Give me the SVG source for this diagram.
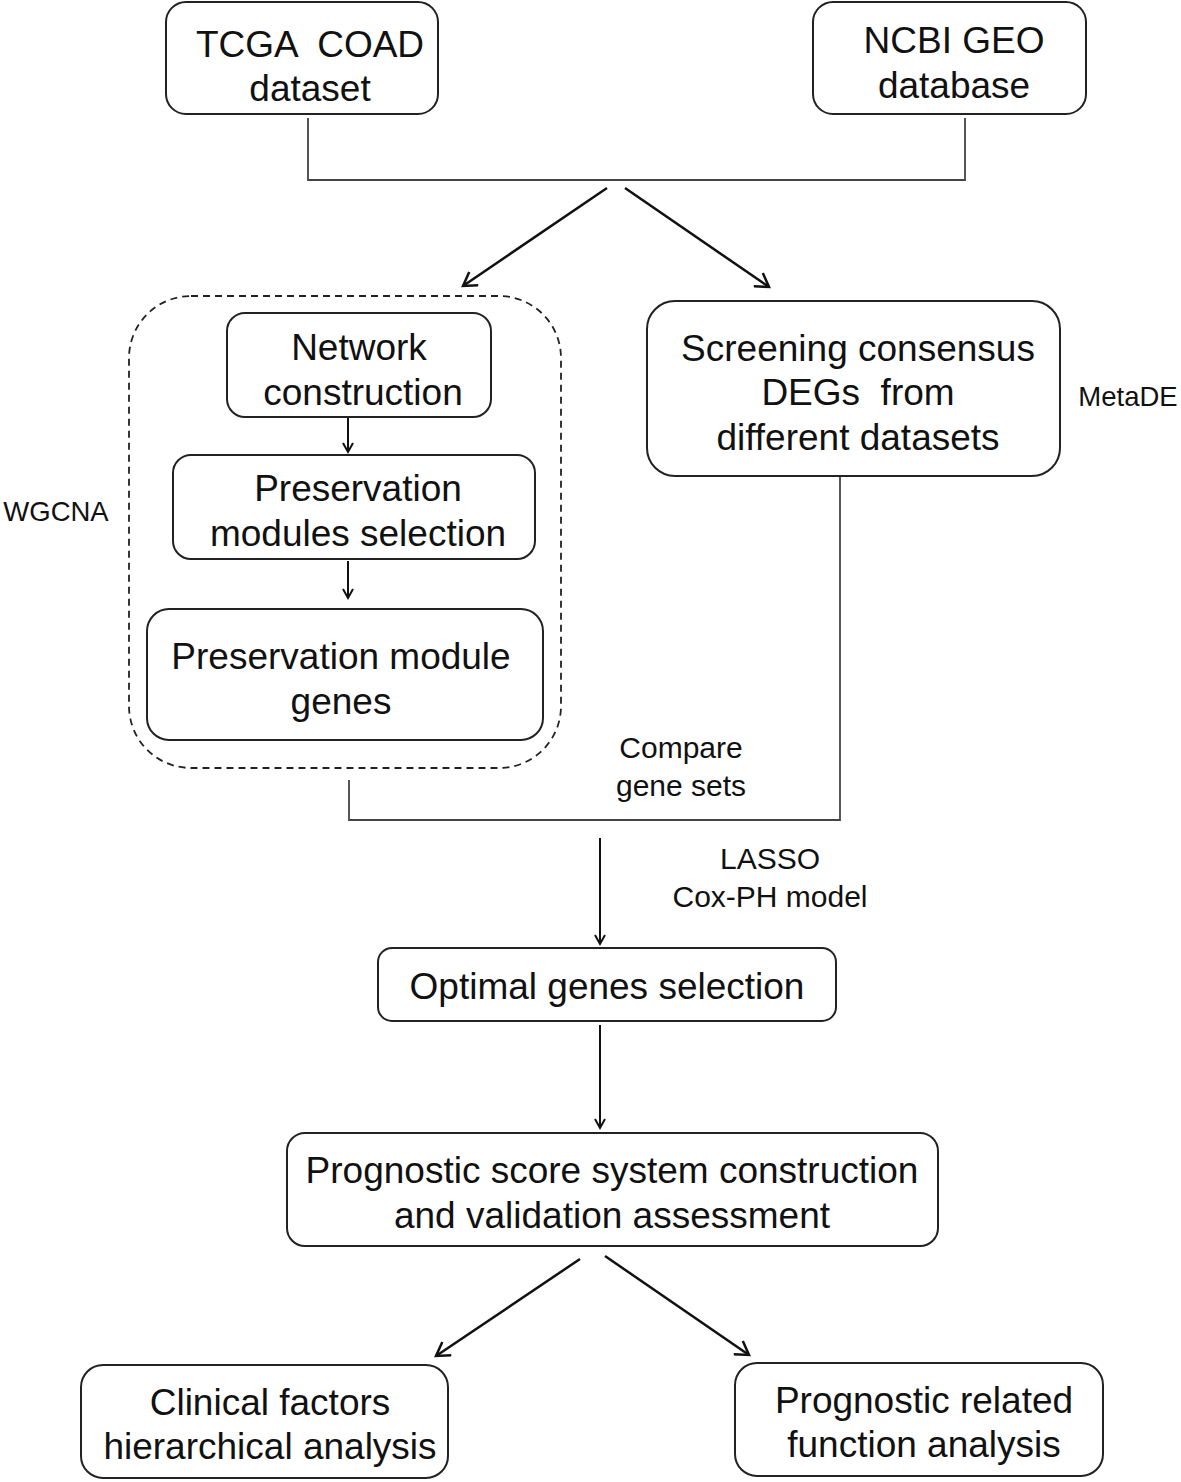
<svg xmlns="http://www.w3.org/2000/svg" width="1181" height="1482" viewBox="0 0 1181 1482">
<style>
.box{fill:#fff;stroke:#222;stroke-width:2}
.t{font-family:"Liberation Sans",Arial,sans-serif;font-size:37px;fill:#111;text-anchor:middle;white-space:pre}
.s{font-family:"Liberation Sans",Arial,sans-serif;font-size:30px;fill:#111;text-anchor:middle}
.m{font-family:"Liberation Sans",Arial,sans-serif;font-size:27.5px;fill:#111;text-anchor:middle}
.ln{fill:none;stroke:#444;stroke-width:1.8}
.ar{fill:none;stroke:#111;stroke-width:2.5;marker-end:url(#ah)}
.ar2{fill:none;stroke:#111;stroke-width:2;marker-end:url(#ah2)}
</style>
<defs>
<marker id="ah" markerWidth="18" markerHeight="18" refX="14" refY="9" orient="auto" markerUnits="userSpaceOnUse"><path d="M1,1 L14,9 L1,17" fill="none" stroke="#111" stroke-width="2.5"/></marker>
<marker id="ah2" markerWidth="14" markerHeight="14" refX="11" refY="7" orient="auto" markerUnits="userSpaceOnUse"><path d="M2,2 L11,7 L2,12" fill="none" stroke="#111" stroke-width="2"/></marker>
</defs>
<rect width="1181" height="1482" fill="#fff"/>
<g id="wgcna-group">
<rect x="129" y="296" width="432" height="472" rx="62" fill="none" stroke="#222" stroke-width="1.8" stroke-dasharray="7,5"/>
</g>
<g id="connectors">
<polyline class="ln" points="308,118 308,180 965,180 965,118"/>
<line class="ar" x1="607" y1="188" x2="463" y2="286"/>
<line class="ar" x1="625" y1="188" x2="769" y2="287"/>
<line class="ar2" x1="348" y1="418" x2="348" y2="452"/>
<line class="ar2" x1="348" y1="561" x2="348" y2="598"/>
<polyline class="ln" points="349,780 349,820 840,820 840,477"/>
<line class="ar2" x1="600" y1="838" x2="600" y2="944"/>
<line class="ar2" x1="600" y1="1025" x2="600" y2="1128"/>
<line class="ar" x1="580" y1="1259" x2="436" y2="1356"/>
<line class="ar" x1="605" y1="1256" x2="749" y2="1355"/>
</g>
<g id="tcga">
<rect class="box" x="166" y="2" width="272" height="112" rx="20"/>
<text class="t" x="310" y="57" xml:space="preserve">TCGA  COAD</text>
<text class="t" x="310" y="101">dataset</text>
</g>
<g id="geo">
<rect class="box" x="813" y="2" width="273" height="112" rx="20"/>
<text class="t" x="954" y="53">NCBI GEO</text>
<text class="t" x="954" y="98">database</text>
</g>
<g id="network">
<rect class="box" x="227" y="313" width="264" height="104" rx="18"/>
<text class="t" x="359" y="360">Network</text>
<text class="t" x="363" y="405">construction</text>
</g>
<g id="presel">
<rect class="box" x="173" y="455" width="362" height="104" rx="18"/>
<text class="t" x="358" y="501">Preservation</text>
<text class="t" x="358" y="546">modules selection</text>
</g>
<g id="pregenes">
<rect class="box" x="147" y="609" width="396" height="131" rx="22"/>
<text class="t" x="341" y="669">Preservation module</text>
<text class="t" x="341" y="714">genes</text>
</g>
<g id="screening">
<rect class="box" x="647" y="301" width="413" height="175" rx="28"/>
<text class="t" x="858" y="361">Screening consensus</text>
<text class="t" x="858" y="405" xml:space="preserve">DEGs  from</text>
<text class="t" x="858" y="450">different datasets</text>
</g>
<g id="labels">
<text class="m" x="1128" y="406">MetaDE</text>
<text class="m" x="56" y="521">WGCNA</text>
<text class="s" x="681" y="758">Compare</text>
<text class="s" x="681" y="796">gene sets</text>
<text class="s" x="770" y="869">LASSO</text>
<text class="s" x="770" y="907">Cox-PH model</text>
</g>
<g id="optimal">
<rect class="box" x="378" y="948" width="458" height="73" rx="14"/>
<text class="t" x="607" y="999">Optimal genes selection</text>
</g>
<g id="prognostic">
<rect class="box" x="287" y="1133" width="651" height="113" rx="18"/>
<text class="t" x="612" y="1183">Prognostic score system construction</text>
<text class="t" x="612" y="1228">and validation assessment</text>
</g>
<g id="clinical">
<rect class="box" x="81" y="1365" width="367" height="113" rx="22"/>
<text class="t" x="270" y="1415">Clinical factors</text>
<text class="t" x="270" y="1459">hierarchical analysis</text>
</g>
<g id="function">
<rect class="box" x="735" y="1363" width="368" height="113" rx="22"/>
<text class="t" x="924" y="1413">Prognostic related</text>
<text class="t" x="924" y="1457">function analysis</text>
</g>
</svg>
